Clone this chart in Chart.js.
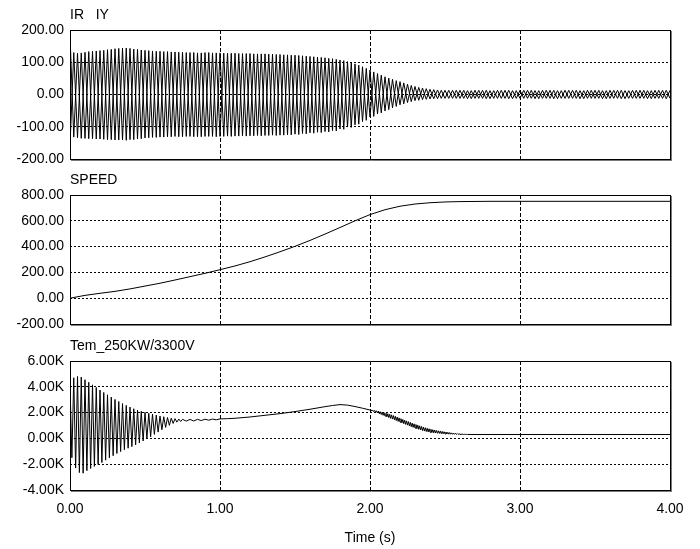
<!DOCTYPE html>
<html><head><meta charset="utf-8">
<script src="https://cdn.jsdelivr.net/npm/chart.js@4"></script>
<style>
html,body{margin:0;padding:0;background:#fff;}
#wrap{position:relative;width:700px;height:549px;overflow:hidden;background:#fff;}
canvas{position:absolute;left:0;}
</style></head><body>
<div id="wrap">
<canvas id="c1" width="700" height="170" style="top:0px"></canvas>
<canvas id="c2" width="700" height="165" style="top:170px"></canvas>
<canvas id="c3" width="700" height="214" style="top:335px"></canvas>
</div>
<script>
// ---------- Panel 1: IR / IY (A) ----------
const timeIRIY = [
0,0.025,0.05,0.075,0.1,0.125,0.15,0.175,
0.2,0.225,0.25,0.275,0.3,0.325,0.35,0.375,
0.4,0.425,0.45,0.475,0.5,0.525,0.55,0.575,
0.6,0.625,0.65,0.675,0.7,0.725,0.75,0.775,
0.8,0.825,0.85,0.875,0.9,0.925,0.95,0.975,
1,1.025,1.05,1.075,1.1,1.125,1.15,1.175,
1.2,1.225,1.25,1.275,1.3,1.325,1.35,1.375,
1.4,1.425,1.45,1.475,1.5,1.525,1.55,1.575,
1.6,1.625,1.65,1.675,1.7,1.725,1.75,1.775,
1.8,1.825,1.85,1.875,1.9,1.925,1.95,1.975,
2,2.025,2.05,2.075,2.1,2.125,2.15,2.175,
2.2,2.225,2.25,2.275,2.3,2.325,2.35,2.375,
2.4,2.425,2.45,2.475,2.5,2.525,2.55,2.575,
2.6,2.625,2.65,2.675,2.7,2.725,2.75,2.775,
2.8,2.825,2.85,2.875,2.9,2.925,2.95,2.975,
3,3.025,3.05,3.075,3.1,3.125,3.15,3.175,
3.2,3.225,3.25,3.275,3.3,3.325,3.35,3.375,
3.4,3.425,3.45,3.475,3.5,3.525,3.55,3.575,
3.6,3.625,3.65,3.675,3.7,3.725,3.75,3.775,
3.8,3.825,3.85,3.875,3.9,3.925,3.95,3.975,
4];
const currentIR = [
185,-132,128,-136,131,-137,134,-138,
136,-139,139,-140,142,-141,144,-142,
143,-140,140,-137,137,-134,135,-133,
134,-132,133,-131,132,-131,131,-130,
130,-131,129,-131,130,-130,129,-131,
129,-130,128,-130,128,-129,127,-129,
127,-128,126,-128,126,-127,125,-127,
124,-126,123,-125,122,-124,120,-122,
118,-120,116,-118,114,-116,111,-113,
107,-108,102,-102,95,-92,86,-80,
76,-68,65,-57,55,-47,47,-37,
40,-29,32,-22,25,-18,20,-15,
16,-13,14,-12,13,-12,13,-12,
13,-12,12,-13,13,-12,13,-13,
12,-12,13,-12,13,-13,12,-12,
13,-12,13,-12,12,-13,13,-12,
13,-13,12,-12,13,-12,13,-12,
12,-13,13,-12,13,-12,12,-13,
13,-12,13,-13,12,-12,13,-12,
13,-12,12,-13,13,-12,13,-13,
13];
const currentIY = [
-160,130,-134,129,-136,133,-137,135,
-138,137,-140,140,-141,143,-141,144,
-140,141,-138,138,-135,136,-133,134,
-132,133,-131,132,-130,131,-131,130,
-130,130,-131,129,-130,130,-130,129,
-130,128,-129,128,-129,127,-128,127,
-128,126,-127,126,-127,125,-126,124,
-126,123,-125,122,-123,121,-121,119,
-119,117,-117,115,-115,112,-112,109,
-107,105,-101,98,-94,91,-84,81,
-70,70,-60,60,-51,51,-41,43,
-32,36,-25,28,-19,22,-16,18,
-14,15,-13,13,-12,13,-12,13,
-12,13,-13,12,-12,13,-12,13,
-13,12,-12,13,-12,13,-13,12,
-12,13,-12,13,-13,12,-12,13,
-12,13,-13,12,-12,13,-12,13,
-13,12,-12,13,-12,13,-13,12,
-12,13,-12,13,-13,12,-12,13,
-12,13,-13,12,-12,13,-12,13,
-12];

// ---------- Panel 2: SPEED (rpm) ----------
const speedTime = [0,0.1,0.2,0.3,0.4,0.5,0.6,0.7,0.8,0.9,1,1.1,1.2,1.3,1.4,1.5,1.6,1.7,1.8,1.9,2,2.1,2.2,2.3,2.4,2.5,2.6,2.8,3,3.5,4];
const speedValues = [0,22,38,53,72,94,116,141,167,193,221,250,283,320,360,402,448,497,548,600,648,686,713,730,740,746,749,751,751,751,751];

// ---------- Panel 3: Tem_250KW/3300V (N·m) ----------
const torqueTime = [
0,0.0125,0.025,0.0375,0.05,0.0625,0.075,0.0875,
0.1,0.1125,0.125,0.1375,0.15,0.1625,0.175,0.1875,
0.2,0.2125,0.225,0.2375,0.25,0.2625,0.275,0.2875,
0.3,0.3125,0.325,0.3375,0.35,0.3625,0.375,0.3875,
0.4,0.4125,0.425,0.4375,0.45,0.4625,0.475,0.4875,
0.5,0.5125,0.525,0.5375,0.55,0.5625,0.575,0.5875,
0.6,0.6125,0.625,0.6375,0.65,0.6625,0.675,0.6875,
0.7,0.7125,0.725,0.7375,0.75,
0.775,0.8,0.825,0.85,0.875,0.9,0.925,0.95,0.975,1,
1.05,1.1,1.2,1.3,1.4,1.5,1.6,1.7,1.75,1.8,1.85,1.9,1.95,
2,2.00625,2.0125,2.01875,2.025,2.03125,2.0375,2.04375,
2.05,2.05625,2.0625,2.06875,2.075,2.08125,2.0875,2.09375,
2.1,2.10625,2.1125,2.11875,2.125,2.13125,2.1375,2.14375,
2.15,2.15625,2.1625,2.16875,2.175,2.18125,2.1875,2.19375,
2.2,2.20625,2.2125,2.21875,2.225,2.23125,2.2375,2.24375,
2.25,2.25625,2.2625,2.26875,2.275,2.28125,2.2875,2.29375,
2.3,2.30625,2.3125,2.31875,2.325,2.33125,2.3375,2.34375,
2.35,2.35625,2.3625,2.36875,2.375,2.38125,2.3875,2.39375,
2.4,2.40625,2.4125,2.41875,2.425,2.43125,2.4375,2.44375,
2.45,2.45625,2.4625,2.46875,2.475,2.48125,2.4875,2.49375,
2.5,2.50625,2.5125,2.51875,2.525,2.53125,2.5375,2.54375,
2.55,2.55625,2.5625,2.56875,2.575,2.58125,2.5875,2.59375,
2.6,2.60625,2.6125,2.61875,2.625,2.63125,2.6375,2.64375,
2.65,
2.7,3,3.5,4];
const torqueValues = [
4200,-1500,4700,-2300,4800,-2650,4750,-2700,
4550,-2500,4350,-2330,4150,-2170,3950,-2020,
3750,-1870,3560,-1690,3380,-1510,3200,-1340,
3020,-1170,2860,-1020,2700,-880,2560,-760,
2430,-640,2300,-500,2200,-350,2100,-200,
2020,-30,1950,130,1880,310,1810,490,
1740,670,1680,850,1620,1010,1570,1160,
1530,1260,1500,1310,1480,
1340,1470,1350,1480,1380,1490,1410,1500,1440,1510,
1530,1560,1660,1790,1920,2080,2260,2460,2550,2620,2580,2470,2340,
2200,2217,2125,2193,2080,2165,2030,2140,
1970,2110,1910,2070,1850,2030,1790,1990,
1730,1950,1670,1910,1610,1870,1550,1825,
1500,1770,1440,1710,1380,1650,1320,1590,
1260,1530,1200,1470,1140,1412,1085,1358,
1030,1300,970,1240,910,1182,855,1128,
800,1075,750,1025,700,975,652,922,
605,873,570,828,535,785,505,746,
475,708,452,676,430,646,415,616,
400,588,385,562,370,539,357,516,
345,495,337,471,330,451,324,430,
320,413,315,397,310,381,308,363,
305,348,304,333,305,320,305,310,
305,
300,300,300,300];

// axis tick settings
const xTickValues = [0, 1, 2, 3, 4];
const panelTitles = ['IR   IY', 'SPEED', 'Tem_250KW/3300V'];
const xAxisTitle = 'Time (s)';

Chart.defaults.font.family = "'Liberation Sans', Arial, sans-serif";
Chart.defaults.font.size = 14;
Chart.defaults.color = '#000';

const framePlugin = {
  id: 'frame',
  afterDraw(chart) {
    const {ctx, chartArea: a} = chart;
    ctx.save();
    ctx.setLineDash([]);
    ctx.lineWidth = 1;
    ctx.strokeStyle = '#000';
    ctx.strokeRect(a.left + 0.5, a.top + 0.5, a.right - a.left, a.bottom - a.top);
    ctx.strokeStyle = '#7a7a7a';
    ctx.beginPath();
    ctx.moveTo(a.right + 1.5, a.top + 1);
    ctx.lineTo(a.right + 1.5, a.bottom + 2);
    ctx.moveTo(a.left + 1, a.bottom + 1.5);
    ctx.lineTo(a.right + 2, a.bottom + 1.5);
    ctx.stroke();
    ctx.restore();
  }
};

const toXY = (xs, ys) => xs.map((x, i) => ({x: x, y: ys[i]}));

function makePanel(id, cfg) {
  return new Chart(document.getElementById(id), {
    type: 'line',
    data: {
      datasets: cfg.series.map(s => ({
        label: s.label, data: s.data,
        borderColor: '#000', borderWidth: 1,
        pointRadius: 0, tension: 0, fill: false
      }))
    },
    options: {
      responsive: false, animation: false, devicePixelRatio: 1,
      layout: {padding: {left: 0, right: 30, top: 0, bottom: cfg.padBottom}},
      plugins: {
        legend: {display: false},
        tooltip: {enabled: false},
        title: {
          display: true, text: cfg.title, align: 'start', fullSize: false,
          color: '#000', font: {size: 14, weight: 'normal'},
          padding: {top: cfg.titleTop, bottom: cfg.titleBottom}
        }
      },
      scales: {
        x: {
          type: 'linear', min: 0, max: 4,
          afterBuildTicks: s => { s.ticks = xTickValues.map(v => ({value: v})); },
          ticks: {display: cfg.showX, padding: 11, maxRotation: 0, autoSkip: false,
                  callback: v => Number(v).toFixed(2)},
          grid: {color: '#000', lineWidth: 1, drawTicks: false},
          border: {display: false, dash: [4, 2]},
          title: {display: cfg.showX, text: xAxisTitle, color: '#000',
                  font: {size: 14}, padding: {top: 0, bottom: 2}},
          afterFit: s => { s.height = cfg.xHeight; s.paddingLeft = 0; s.paddingRight = 0; }
        },
        y: {
          min: cfg.yMin, max: cfg.yMax,
          afterBuildTicks: s => { s.ticks = cfg.yTicks.map(v => ({value: v})); },
          ticks: {padding: 6, autoSkip: false, callback: cfg.fmt},
          grid: {color: '#000', lineWidth: 1, drawTicks: false},
          border: {display: false, dash: [2, 2]},
          afterFit: s => { s.width = 70; s.paddingTop = 0; s.paddingBottom = 0; }
        }
      }
    },
    plugins: [framePlugin]
  });
}

const yTicks1 = [-200, -100, 0, 100, 200];
const yTicks2 = [-200, 0, 200, 400, 600, 800];
const yTicks3 = [-4000, -2000, 0, 2000, 4000, 6000];

makePanel('c1', {
  title: panelTitles[0], titleTop: 7, titleBottom: 6.2, padBottom: 11,
  showX: false, xHeight: 0, yMin: -200, yMax: 200, yTicks: yTicks1,
  fmt: v => Number(v).toFixed(2),
  series: [
    {label: 'IR', data: toXY(timeIRIY, currentIR)},
    {label: 'IY', data: toXY(timeIRIY, currentIY)}
  ]
});
makePanel('c2', {
  title: panelTitles[1], titleTop: 2, titleBottom: 6.2, padBottom: 11,
  showX: false, xHeight: 0, yMin: -200, yMax: 800, yTicks: yTicks2,
  fmt: v => Number(v).toFixed(2),
  series: [{label: 'SPEED', data: toXY(speedTime, speedValues)}]
});
makePanel('c3', {
  title: panelTitles[2], titleTop: 3, titleBottom: 6.2, padBottom: 0,
  showX: true, xHeight: 59, yMin: -4000, yMax: 6000, yTicks: yTicks3,
  fmt: v => (Number(v) / 1000).toFixed(2) + 'K',
  series: [{label: 'Tem_250KW/3300V', data: toXY(torqueTime, torqueValues)}]
});
</script>
</body></html>
